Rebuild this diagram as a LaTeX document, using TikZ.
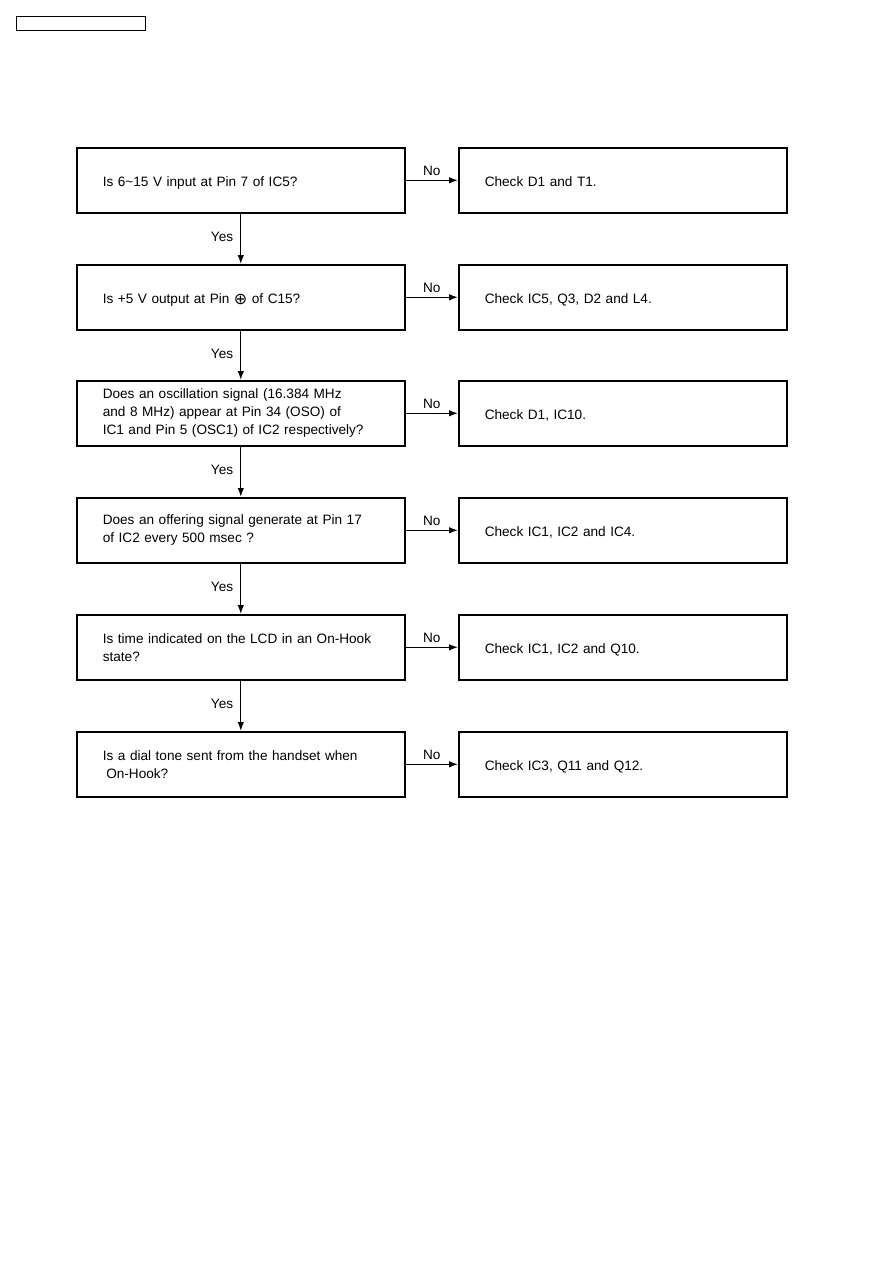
\documentclass[tikz,border=0pt]{standalone}
\usepackage{fontspec}
\setmainfont{Liberation Sans}
\newfontfamily\symfont{DejaVu Sans}
\usetikzlibrary{arrows.meta}
\newcommand{\pinplus}{\raisebox{-1.5pt}{\symfont\fontsize{16pt}{16pt}\selectfont ⊕}}
\begin{document}
\begin{tikzpicture}[x=1pt,y=-1pt,
  every node/.style={font=\fontsize{13.6pt}{18pt}\selectfont},
  qbox/.style={draw,line width=1.6pt,anchor=north west,minimum width=328pt,minimum height=65pt,
    text width=276pt,inner xsep=26pt,inner ysep=0pt,align=left},
  oneline/.style={text height=12pt,text depth=0pt},
  flow/.style={line width=1.3pt,-{Latex[length=9pt,width=6.5pt]}},
  lbl/.style={inner sep=1pt}]
\useasboundingbox (0,0) rectangle (893,1263);
\node[draw,line width=1.4pt,anchor=north west,minimum width=129pt,minimum height=14pt,inner sep=0pt] (hdr) at (16,16) {};
% left question boxes
\node[qbox,oneline] (q1) at (76,147) {Is 6\textasciitilde15 V input at Pin 7 of IC5?};
\node[qbox,oneline] (q2) at (76,264) {Is +5 V output at Pin \pinplus\ of C15?};
\node[qbox] (q3) at (76,380) {Does an oscillation signal (16.384 MHz\\and 8 MHz) appear at Pin 34 (OSO) of\\IC1 and Pin 5 (OSC1) of IC2 respectively?};
\node[qbox] (q4) at (76,497) {Does an offering signal generate at Pin 17\\of IC2 every 500 msec ?};
\node[qbox] (q5) at (76,614) {Is time indicated on the LCD in an On-Hook\\state?};
\node[qbox] (q6) at (76,731) {Is a dial tone sent from the handset when\\\hspace*{3.5pt}On-Hook?};
% right action boxes
\node[qbox,oneline] (a1) at (458,147) {Check D1 and T1.};
\node[qbox,oneline] (a2) at (458,264) {Check IC5, Q3, D2 and L4.};
\node[qbox,oneline] (a3) at (458,380) {Check D1, IC10.};
\node[qbox,oneline] (a4) at (458,497) {Check IC1, IC2 and IC4.};
\node[qbox,oneline] (a5) at (458,614) {Check IC1, IC2 and Q10.};
\node[qbox,oneline] (a6) at (458,731) {Check IC3, Q11 and Q12.};
% No arrows
\foreach \i in {1,...,6}{
  \draw[flow] (q\i.east) -- (a\i.west) node[lbl,pos=0.5,above=3pt] (no\i) {No};
}
% Yes arrows
\foreach \i/\j in {1/2,2/3,3/4,4/5,5/6}{
  \draw[flow] (q\i.south) -- (q\j.north) node[lbl,pos=0.47,left=6pt] (yes\i) {Yes};
}
\end{tikzpicture}
\end{document}
